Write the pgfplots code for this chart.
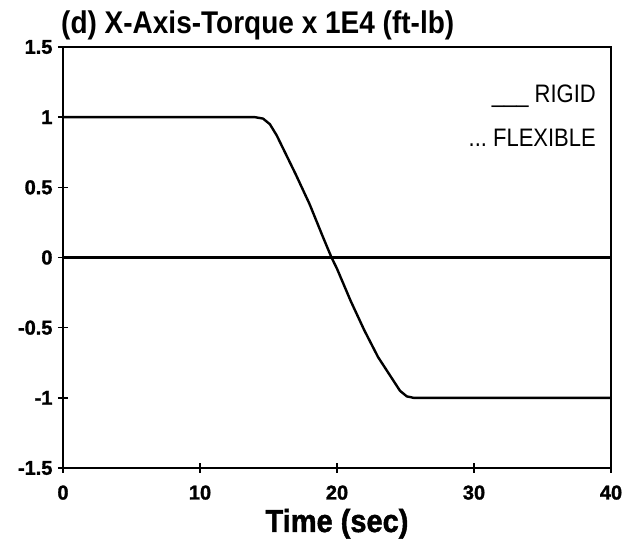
\documentclass[border=0pt]{standalone}
\usepackage{fontspec}
\setmainfont{Liberation Sans}
\newfontfamily\heavy[FakeBold=1.5]{Liberation Sans Bold}
\usepackage{graphicx}
\usepackage{pgfplots}
\pgfplotsset{compat=1.18}

% Torque response of the rigid model (units of 1E4 ft-lb)
\pgfplotstableread{
t      T
0      1.00
14.0   1.00
14.6   0.99
15.1   0.95
15.6   0.87
16.0   0.79
17.0   0.59
18.0   0.38
19.0   0.14
19.6   0.00
20.0  -0.08
21.0  -0.31
22.0  -0.52
23.0  -0.71
24.0  -0.86
24.6  -0.95
25.1  -0.99
25.6  -1.00
40.0  -1.00
}\rigid

% Flexible model response
\pgfplotstableread{
t   T
0   0
40  0
}\flexible

\begin{document}
\begin{tikzpicture}
\useasboundingbox (-63pt,-72pt) rectangle (564pt,468pt);
\begin{axis}[
  at={(0,0)}, anchor=south west,
  scale only axis, width=548pt, height=421pt,
  xmin=0, xmax=40, ymin=-1.5, ymax=1.5,
  xtick={0,10,20,30,40},
  xticklabels={0,10,20,30,40},
  ytick={-1.5,-1,-0.5,0,0.5,1,1.5},
  yticklabels={-1.5,-1,-0.5,0,0.5,1,1.5},
  xtick pos=bottom, ytick pos=left,
  tick align=center, major tick length=10pt,
  tick style={line width=1.6pt, black},
  axis line style={line width=2pt},
  ticklabel style={font=\fontsize{20}{20}\selectfont\heavy},
  yticklabel style={xshift=-2pt},
  xticklabel style={yshift=-9pt},
  clip=false,
]
\addplot[black, line width=2.6pt] table[x=t, y=T] {\flexible};
\addplot[black, line width=2.4pt, line join=round] table[x=t, y=T] {\rigid};

\node[anchor=base west, inner sep=0pt, xshift=-2pt, yshift=13pt] at (rel axis cs:0,1)
  {\scalebox{1}[1.12]{\fontsize{28}{28}\selectfont\bfseries (d) X-Axis-Torque x 1E4 (ft-lb)}};
\node[anchor=base east, inner sep=0pt, xshift=-15pt, yshift=-56pt] at (rel axis cs:1,1)
  {\scalebox{1}[1.15]{\fontsize{22}{22}\selectfont \_\_\_\ RIGID}};
\node[anchor=base east, inner sep=0pt, xshift=-15pt, yshift=-100pt] at (rel axis cs:1,1)
  {\scalebox{1}[1.15]{\fontsize{22}{22}\selectfont ...\ FLEXIBLE}};
\node[anchor=base, inner sep=0pt, yshift=-64pt] at (rel axis cs:0.5,0)
  {\scalebox{1}[1.1]{\fontsize{29}{29}\selectfont\heavy Time (sec)}};
\end{axis}
\end{tikzpicture}
\end{document}
